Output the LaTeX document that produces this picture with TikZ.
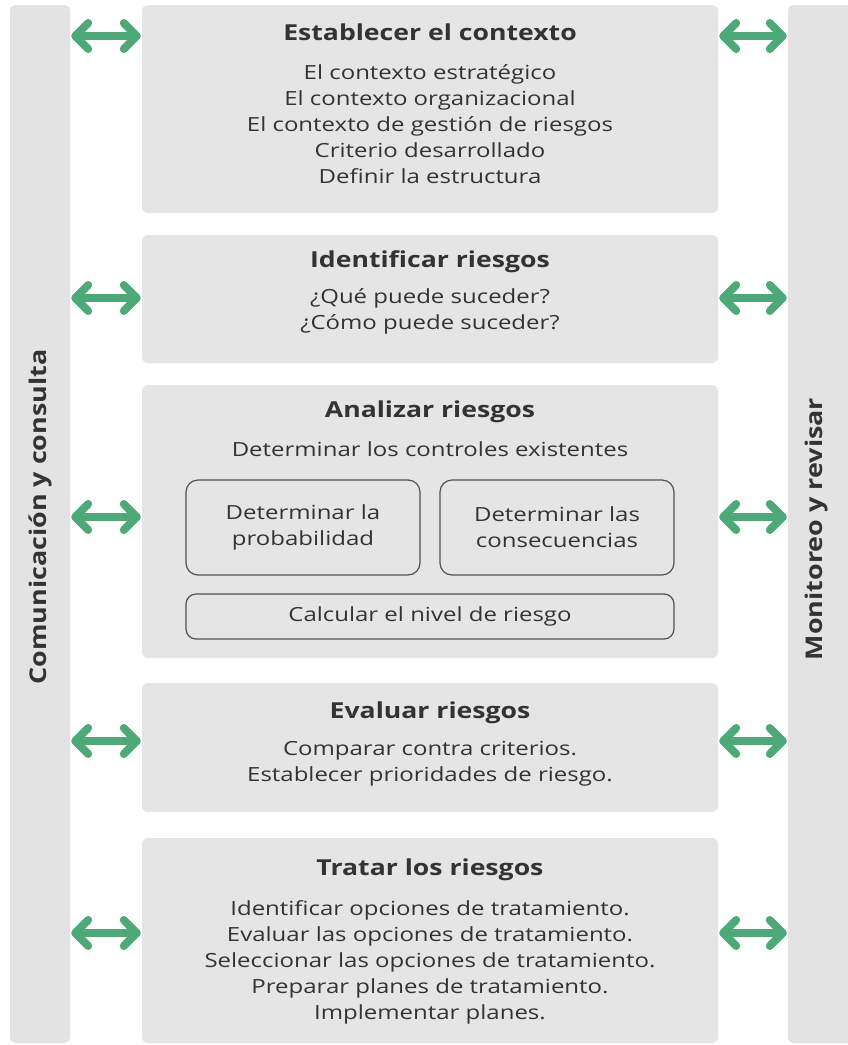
\documentclass[tikz,border=0pt]{standalone}
\usepackage{fontspec}
\setmainfont{Open Sans}
\usetikzlibrary{arrows.meta,calc}
\definecolor{panel}{HTML}{E5E5E5}
\definecolor{barc}{HTML}{E3E3E3}
\definecolor{txt}{HTML}{333333}
\definecolor{grn}{HTML}{4DAA78}
\begin{document}
\begin{tikzpicture}[x=1pt,y=-1pt,
  panelbox/.style={fill=panel,rounded corners=6pt},
  sidebar/.style={fill=barc,rounded corners=6pt},
  ttl/.style={text=txt,font=\fontsize{22}{26}\selectfont\bfseries,inner sep=0pt,xscale=1.21},
  body/.style={text=txt,font=\fontsize{19.5}{26}\selectfont,align=center,inner sep=0pt,xscale=1.23},
  inner/.style={draw=txt!85,line width=1.2pt,rounded corners=12pt,inner sep=0pt},
  link/.style={draw=grn,line width=8pt,{Straight Barb[round,length=13pt 0 0,width=26pt 0 0]}-{Straight Barb[round,length=13pt 0 0,width=26pt 0 0]},shorten <=1pt,shorten >=1pt},
  side/.style={text=txt,font=\fontsize{23}{26}\selectfont\bfseries,inner sep=0pt,rotate=90,xscale=1.17}]
\useasboundingbox (0,0) rectangle (848,1045);
% side bars
\path[sidebar] (10,5) rectangle (70,1043);
\node[inner sep=0pt,minimum width=60pt,minimum height=1038pt] (lbar) at (40,524) {};
\path[sidebar] (788,5) rectangle (858,1043);
\node[inner sep=0pt,minimum width=60pt,minimum height=1038pt] (rbar) at (818,524) {};
\node[side] (ltxt) at (40,517) {Comunicación y consulta};
\node[side] (rtxt) at (817,529) {Monitoreo y revisar};
% boxes
\node[panelbox,minimum width=576pt,minimum height=208pt,inner sep=0pt] (b1) at (430,109) {};
\node[panelbox,minimum width=576pt,minimum height=128pt,inner sep=0pt] (b2) at (430,299) {};
\node[panelbox,minimum width=576pt,minimum height=273pt,inner sep=0pt] (b3) at (430,521.5) {};
\node[panelbox,minimum width=576pt,minimum height=129pt,inner sep=0pt] (b4) at (430,747.5) {};
\node[panelbox,minimum width=576pt,minimum height=205pt,inner sep=0pt] (b5) at (430,940.5) {};
% texts box 1
\node[ttl] (t1) at (430,32) {Establecer el contexto};
\node[body] (x1) at (430,124.5) {El contexto estratégico\\El contexto organizacional\\El contexto de gestión de riesgos\\Criterio desarrollado\\Definir la estructura};
% box 2
\node[ttl] (t2) at (430,262) {Identificar riesgos};
\node[body] (x2) at (430,311) {¿Qué puede suceder?\\¿Cómo puede suceder?};
% box 3
\node[ttl] (t3) at (430,412) {Analizar riesgos};
\node[body] (x3) at (430,449) {Determinar los controles existentes};
\node[inner,minimum width=234pt,minimum height=95pt] (p) at (303,527.5) {};
\node[body] (pt) at (303,527.5) {Determinar la\\probabilidad};
\node[inner,minimum width=234pt,minimum height=95pt] (c) at (557,527.5) {};
\node[body] (ct) at (557,527.5) {Determinar las\\consecuencias};
\node[inner,minimum width=488pt,minimum height=45pt,rounded corners=10pt] (n) at (430,616.5) {};
\node[body] (nt) at (430,616.5) {Calcular el nivel de riesgo};
% box 4
\node[ttl] (t4) at (430,713) {Evaluar riesgos};
\node[body] (x4) at (430,763.5) {Comparar contra criterios.\\Establecer prioridades de riesgo.};
% box 5
\node[ttl] (t5) at (430,870) {Tratar los riesgos};
\node[body] (x5) at (430,962) {Identificar opciones de tratamiento.\\Evaluar las opciones de tratamiento.\\Seleccionar las opciones de tratamiento.\\Preparar planes de tratamiento.\\Implementar planes.};
% arrow levels
\coordinate (a1) at (0,36);
\coordinate (a2) at (0,298);
\coordinate (a3) at (0,517);
\coordinate (a4) at (0,741);
\coordinate (a5) at (0,933);
\foreach \i in {1,...,5}{
  \draw[link] (lbar.east |- a\i) -- (b\i.west |- a\i);
  \draw[link] (b\i.east |- a\i) -- (rbar.west |- a\i);
}
\end{tikzpicture}
\end{document}
